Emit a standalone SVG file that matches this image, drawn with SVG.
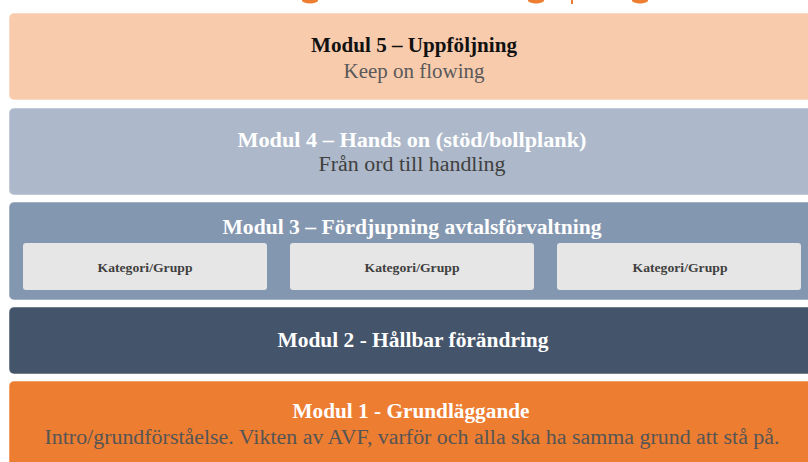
<svg xmlns="http://www.w3.org/2000/svg" width="808" height="462" viewBox="0 0 808 462">
<style>
.t{font-family:"Liberation Serif","DejaVu Serif",serif;text-anchor:middle}
.b{font-weight:bold}
.bar{stroke:#ffffff;stroke-opacity:0.5;stroke-width:1}
.sub{fill:#E7E6E6}
</style>
<rect width="808" height="462" fill="#ffffff"/>
<g id="top-fragments" fill="#ED7D31">
<ellipse cx="310" cy="0.5" rx="8" ry="3"/>
<ellipse cx="536" cy="0.5" rx="8" ry="3"/>
<rect x="571" y="0" width="2" height="4"/>
<ellipse cx="640" cy="0.5" rx="8" ry="3"/>
</g>
<g id="modul5">
<rect class="bar" x="9" y="13" width="812" height="87" rx="5" fill="#F8CBAD"/>
<text class="t b" x="414" y="52" font-size="20" fill="#111111" textLength="206" lengthAdjust="spacingAndGlyphs">Modul 5 – Uppföljning</text>
<text class="t" x="414" y="78" font-size="20" fill="#595959" textLength="141" lengthAdjust="spacingAndGlyphs">Keep on flowing</text>
</g>
<g id="modul4">
<rect class="bar" x="9" y="108" width="812" height="87" rx="5" fill="#ADB9CA"/>
<text class="t b" x="412" y="147" font-size="20" fill="#ffffff" textLength="349" lengthAdjust="spacingAndGlyphs">Modul 4 – Hands on (stöd/bollplank)</text>
<text class="t" x="412" y="171" font-size="20" fill="#404040" textLength="187" lengthAdjust="spacingAndGlyphs">Från ord till handling</text>
</g>
<g id="modul3">
<rect class="bar" x="9" y="202" width="812" height="98" rx="5" fill="#8497B0"/>
<text class="t b" x="412" y="234" font-size="20" fill="#ffffff" textLength="379" lengthAdjust="spacingAndGlyphs">Modul 3 – Fördjupning avtalsförvaltning</text>
</g>
<g id="kategori1">
<rect class="sub" x="23" y="243" width="244" height="47" rx="3"/>
<text class="t b" x="145" y="272" font-size="13" fill="#404040" textLength="95" lengthAdjust="spacingAndGlyphs">Kategori/Grupp</text>
</g>
<g id="kategori2">
<rect class="sub" x="290" y="243" width="244" height="47" rx="3"/>
<text class="t b" x="412" y="272" font-size="13" fill="#404040" textLength="95" lengthAdjust="spacingAndGlyphs">Kategori/Grupp</text>
</g>
<g id="kategori3">
<rect class="sub" x="557" y="243" width="244" height="47" rx="3"/>
<text class="t b" x="680" y="272" font-size="13" fill="#404040" textLength="95" lengthAdjust="spacingAndGlyphs">Kategori/Grupp</text>
</g>
<g id="modul2">
<rect class="bar" x="9" y="307" width="812" height="67" rx="5" fill="#44546A"/>
<text class="t b" x="413" y="347" font-size="20" fill="#ffffff" textLength="271" lengthAdjust="spacingAndGlyphs">Modul 2 - Hållbar förändring</text>
</g>
<g id="modul1">
<rect class="bar" x="9" y="381" width="812" height="100" rx="5" fill="#ED7D31"/>
<text class="t b" x="411" y="418" font-size="20" fill="#ffffff" textLength="237" lengthAdjust="spacingAndGlyphs">Modul 1 - Grundläggande</text>
<text class="t" x="412" y="444" font-size="20" fill="#555555" textLength="735" lengthAdjust="spacingAndGlyphs">Intro/grundförståelse. Vikten av AVF, varför och alla ska ha samma grund att stå på.</text>
</g>
<g id="connectors"/>
</svg>
